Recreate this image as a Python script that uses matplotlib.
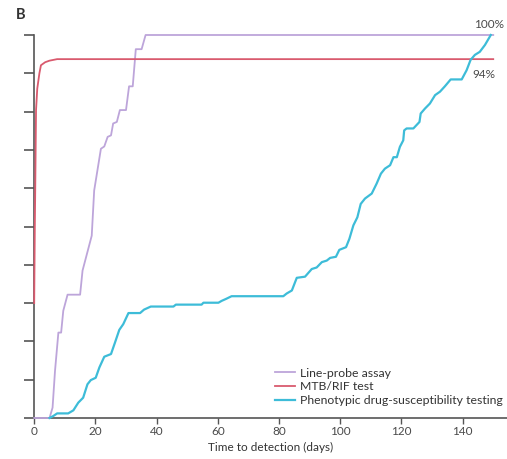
import matplotlib
matplotlib.use("Agg")
import matplotlib.pyplot as plt

plt.rcParams['font.family'] = ['Lato', 'DejaVu Sans']

# Line-probe assay (days, cumulative fraction)
lpa_days = [0, 5.0, 6.0, 6.8, 7.9, 8.8, 9.5, 10.9, 15.0, 15.8, 18.8, 19.6, 21.8, 22.9,
            24.0, 25.1, 25.8, 27.0, 28.0, 30.0, 31.0, 32.2, 33.2, 35.1, 36.4, 150]
lpa_frac = [0, 0, 0.027, 0.123, 0.223, 0.223, 0.280, 0.322, 0.322, 0.385, 0.476, 0.594,
            0.703, 0.709, 0.734, 0.738, 0.769, 0.773, 0.804, 0.804, 0.866, 0.866,
            0.963, 0.963, 1.0, 1.0]

# MTB/RIF test
xpert_days = [0, 0.2, 0.3, 0.6, 1.0, 1.7, 2.2, 3.6, 5.0, 7.5, 150]
xpert_frac = [0.30, 0.50, 0.568, 0.804, 0.86, 0.90, 0.921, 0.929, 0.933, 0.937, 0.937]

# Phenotypic drug-susceptibility testing
dst_days = [5.0, 6.2, 7.5, 11.1, 12.8, 14.4, 16.0, 17.4, 18.5, 20.1, 21.3, 22.9, 25.1,
            26.4, 27.8, 29.1, 30.8, 34.6, 35.9, 38.1, 45.5, 46.3, 54.7, 55.3, 60.2,
            61.3, 62.7, 64.5, 81.4, 82.5, 84.2, 85.8, 88.5, 90.7, 92.3, 94.0, 95.6,
            96.7, 98.6, 99.7, 101.9, 103.0, 104.3, 105.6, 106.7, 108.1, 110.3, 111.9,
            113.3, 114.6, 116.3, 117.4, 118.5, 119.5, 120.6, 120.9, 121.7, 123.9,
            125.9, 126.3, 127.7, 129.3, 131.0, 132.6, 134.2, 136.1, 139.7, 141.3,
            142.6, 144.0, 145.6, 147.3, 149.2]
dst_frac = [0, 0.005, 0.012, 0.012, 0.020, 0.040, 0.053, 0.088, 0.099, 0.105, 0.132,
            0.160, 0.167, 0.197, 0.230, 0.245, 0.274, 0.274, 0.283, 0.291, 0.291,
            0.296, 0.296, 0.301, 0.301, 0.306, 0.311, 0.318, 0.318, 0.325, 0.333,
            0.366, 0.369, 0.389, 0.393, 0.407, 0.411, 0.418, 0.421, 0.439, 0.446,
            0.468, 0.503, 0.524, 0.559, 0.573, 0.586, 0.612, 0.638, 0.651, 0.660,
            0.681, 0.681, 0.708, 0.725, 0.751, 0.756, 0.756, 0.773, 0.795, 0.808,
            0.821, 0.843, 0.852, 0.866, 0.884, 0.884, 0.908, 0.935, 0.948, 0.956,
            0.974, 1.0]

labels = ["Line-probe assay", "MTB/RIF test", "Phenotypic drug-susceptibility testing"]
colors = ["#bda5da", "#d95a6e", "#3dbcd8"]
xticks = [0, 20, 40, 60, 80, 100, 120, 140]
yticks = [i / 10 for i in range(11)]

grey = "#555555"
txt = "#4a4a4a"

fig = plt.figure(figsize=(5.07, 4.59), dpi=100)
ax = fig.add_axes([34.2 / 507, 1 - 418 / 459, 1 - 34.2 / 507, (418 - 35) / 459])

lw = 1.3
ax.plot(lpa_days, lpa_frac, color=colors[0], lw=lw, label=labels[0], clip_on=False, zorder=3)
ax.plot(xpert_days, xpert_frac, color=colors[1], lw=lw, label=labels[1], clip_on=False, zorder=3)
ax.plot(dst_days, dst_frac, color=colors[2], lw=lw + 0.3, label=labels[2], clip_on=False, zorder=3)

ax.set_xlim(0, 154.5)
ax.set_ylim(0, 1)
ax.set_xticks(xticks)
ax.set_yticks(yticks)
ax.set_yticklabels([])
for s in ["top", "right"]:
    ax.spines[s].set_visible(False)
for s in ["left", "bottom"]:
    ax.spines[s].set_color(grey)
    ax.spines[s].set_linewidth(1.2)
ax.tick_params(axis="y", direction="out", length=7, width=1.2, color=grey)
ax.tick_params(axis="x", direction="out", length=4, width=1.0, color=grey,
               labelsize=8.5, labelcolor=txt, pad=2)
ax.set_xlabel("Time to detection (days)", fontsize=8.5, color="#333333", labelpad=3)

ax.text(153.4, 1.027, "100%", ha="right", va="center", fontsize=8.5, color=txt)
ax.text(150.8, 0.898, "94%", ha="right", va="center", fontsize=8.5, color=txt)

fig.text(16 / 507, 1 - 15 / 459, "B", fontsize=10.5, fontweight="bold", color="#333333",
         ha="left", va="center")

leg = ax.legend(loc="lower left", bbox_to_anchor=(275 / 507, 1 - 406 / 459),
                bbox_transform=fig.transFigure, frameon=False, fontsize=8.8,
                handlelength=1.6, handletextpad=0.45, labelspacing=0.22,
                borderaxespad=0, borderpad=0)
for t in leg.get_texts():
    t.set_color("#333333")

fig.savefig("out.png", dpi=100)
